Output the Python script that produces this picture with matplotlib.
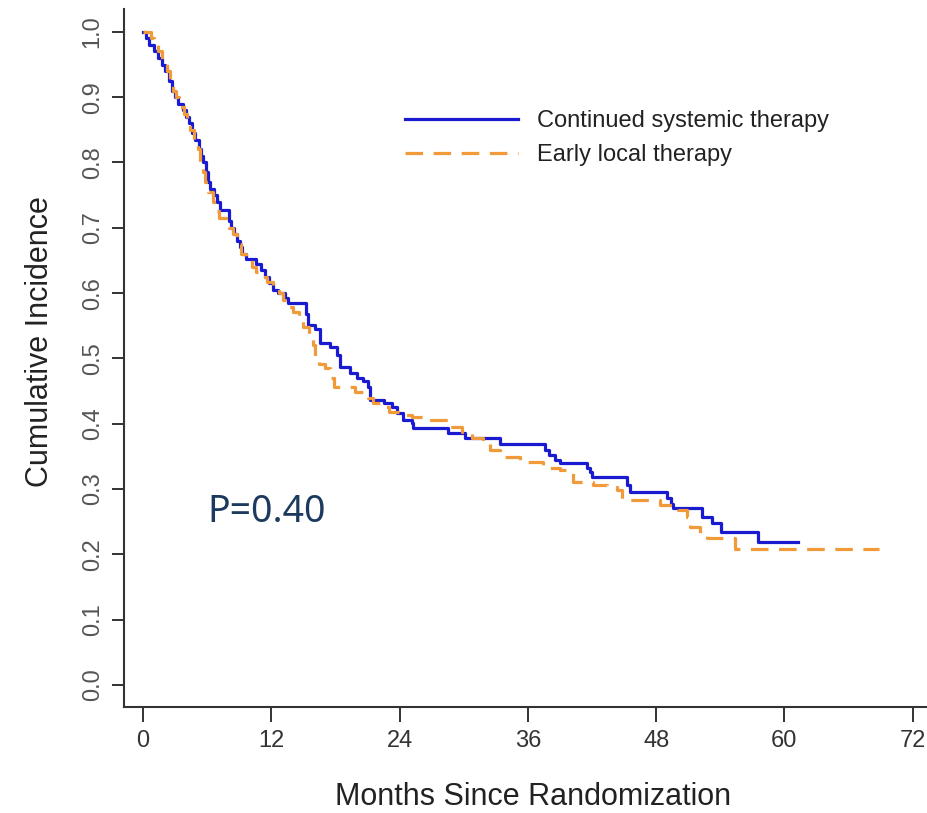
import matplotlib
matplotlib.use("Agg")
import matplotlib.pyplot as plt

# Cumulative incidence curves (step functions)
# Continued systemic therapy
cst_months = [0, 0.3, 0.6, 1.0, 1.4, 1.8, 2.1, 2.4, 2.7, 3.0, 3.3, 3.7, 4.0, 4.3,
              4.6, 4.9, 5.2, 5.4, 5.6, 5.9, 6.1, 6.3, 6.6, 6.9, 7.2, 8.0, 8.2, 8.5,
              8.8, 9.1, 9.3, 9.6, 10.6, 11.0, 11.4, 11.8, 12.2, 12.6, 13.3, 13.6,
              15.2, 15.4, 16.1, 16.6, 17.5, 18.1, 18.4, 19.4, 20.0, 20.6, 21.0,
              21.2, 22.5, 23.3, 23.8, 24.3, 25.2, 25.3, 28.5, 30.1, 33.4, 37.6,
              38.0, 38.5, 39.0, 41.5, 41.8, 42.0, 45.3, 45.6, 49.0, 49.4, 49.6,
              52.3, 53.2, 54.1, 57.5, 61.3]
cst_inc = [1.0, 0.99, 0.98, 0.97, 0.96, 0.95, 0.94, 0.925, 0.91, 0.90, 0.89, 0.88,
           0.87, 0.86, 0.845, 0.835, 0.82, 0.81, 0.80, 0.785, 0.77, 0.76, 0.75,
           0.74, 0.728, 0.71, 0.70, 0.69, 0.68, 0.67, 0.66, 0.652, 0.645, 0.636,
           0.625, 0.615, 0.605, 0.60, 0.593, 0.585, 0.568, 0.551, 0.545, 0.524,
           0.518, 0.505, 0.487, 0.478, 0.47, 0.465, 0.456, 0.436, 0.432, 0.425,
           0.417, 0.406, 0.401, 0.394, 0.386, 0.378, 0.369, 0.36, 0.352, 0.345,
           0.34, 0.332, 0.326, 0.319, 0.306, 0.296, 0.286, 0.277, 0.271, 0.257,
           0.248, 0.234, 0.219, 0.219]

# Early local therapy
elt_months = [0, 0.7, 1.0, 1.4, 1.8, 2.2, 2.5, 2.8, 3.1, 3.4, 3.8, 4.1, 4.4, 4.8,
              5.1, 5.3, 5.6, 5.8, 6.1, 6.5, 6.8, 7.1, 8.0, 8.4, 8.8, 9.2, 9.6,
              10.2, 10.6, 11.1, 11.6, 12.2, 12.7, 13.1, 13.6, 14.0, 14.6, 15.0,
              15.5, 15.9, 16.1, 16.5, 17.0, 17.5, 17.9, 19.8, 21.0, 21.5, 22.4,
              23.0, 24.6, 25.2, 26.6, 28.7, 29.8, 30.8, 31.8, 32.5, 33.4, 35.3,
              37.4, 39.0, 39.6, 40.2, 42.1, 43.4, 44.3, 44.8, 48.4, 50.0, 50.9,
              51.2, 52.1, 52.8, 55.4, 68.8]
elt_inc = [1.0, 0.99, 0.98, 0.97, 0.955, 0.94, 0.925, 0.91, 0.90, 0.885, 0.875,
           0.865, 0.85, 0.835, 0.82, 0.80, 0.785, 0.77, 0.755, 0.74, 0.725, 0.715,
           0.70, 0.69, 0.675, 0.66, 0.65, 0.64, 0.632, 0.625, 0.617, 0.61, 0.60,
           0.59, 0.578, 0.571, 0.564, 0.548, 0.536, 0.52, 0.50, 0.492, 0.485,
           0.47, 0.457, 0.449, 0.44, 0.432, 0.426, 0.418, 0.413, 0.41, 0.406,
           0.395, 0.387, 0.378, 0.37, 0.36, 0.349, 0.341, 0.332, 0.329, 0.325,
           0.311, 0.306, 0.303, 0.299, 0.283, 0.276, 0.268, 0.257, 0.242, 0.233,
           0.225, 0.208, 0.208]

x_ticks = [0, 12, 24, 36, 48, 60, 72]
y_ticks = [0.0, 0.1, 0.2, 0.3, 0.4, 0.5, 0.6, 0.7, 0.8, 0.9, 1.0]

plt.rcParams['font.family'] = ['Liberation Sans', 'DejaVu Sans']

fig = plt.figure(figsize=(9.28, 8.13), dpi=100)
ax = fig.add_axes([124 / 928, 106 / 813, 804 / 928, 698 / 813])

ax.plot(cst_months, cst_inc, drawstyle='steps-post', color='#1a1ad0',
        linewidth=2.3, label='Continued systemic therapy')
ax.plot(elt_months, elt_inc, drawstyle='steps-post', color='#f09a3a',
        linewidth=2.3, linestyle=(0, (5.5, 3.3)), label='Early local therapy')

ax.set_xlim(-1.78, 73.43)
ax.set_ylim(-0.0337, 1.035)

# R-style axes: only left and bottom lines
for side in ['top', 'right']:
    ax.spines[side].set_visible(False)
for side in ['left', 'bottom']:
    ax.spines[side].set_linewidth(1.5)
    ax.spines[side].set_color('#333333')

ax.set_xticks(x_ticks)
ax.set_xticklabels([str(t) for t in x_ticks])
ax.set_yticks(y_ticks)
ax.set_yticklabels(['%.1f' % v for v in y_ticks], rotation=90, va='center')
ax.tick_params(axis='x', direction='out', length=10.5, width=1.4,
               color='#333333', labelsize=17, labelcolor='#333333', pad=6)
ax.tick_params(axis='y', direction='out', length=8.6, width=1.4,
               color='#333333', labelsize=17, labelcolor='#555555', pad=6)

fig.text(40 / 928, 1 - 342 / 813, 'Cumulative Incidence', rotation=90,
         ha='center', va='center', fontsize=22, color='#222222')
fig.text(533 / 928, 1 - 797 / 813, 'Months Since Randomization',
         ha='center', va='center', fontsize=22, color='#222222')

# p-value annotation
ax.text(6.0, 0.25, 'P=0.40', fontsize=27,
        family=['Noto Sans', 'DejaVu Sans'], color='#1c3a5e',
        ha='left', va='baseline')

leg = ax.legend(loc='upper left', bbox_to_anchor=(405 / 928, 1 - 110 / 813),
                bbox_transform=fig.transFigure, frameon=False, fontsize=17,
                handlelength=4.8, handletextpad=0.8, labelspacing=0.52,
                borderpad=0, borderaxespad=0)
for t in leg.get_texts():
    t.set_color('#222222')

plt.savefig('out.png', dpi=100)
